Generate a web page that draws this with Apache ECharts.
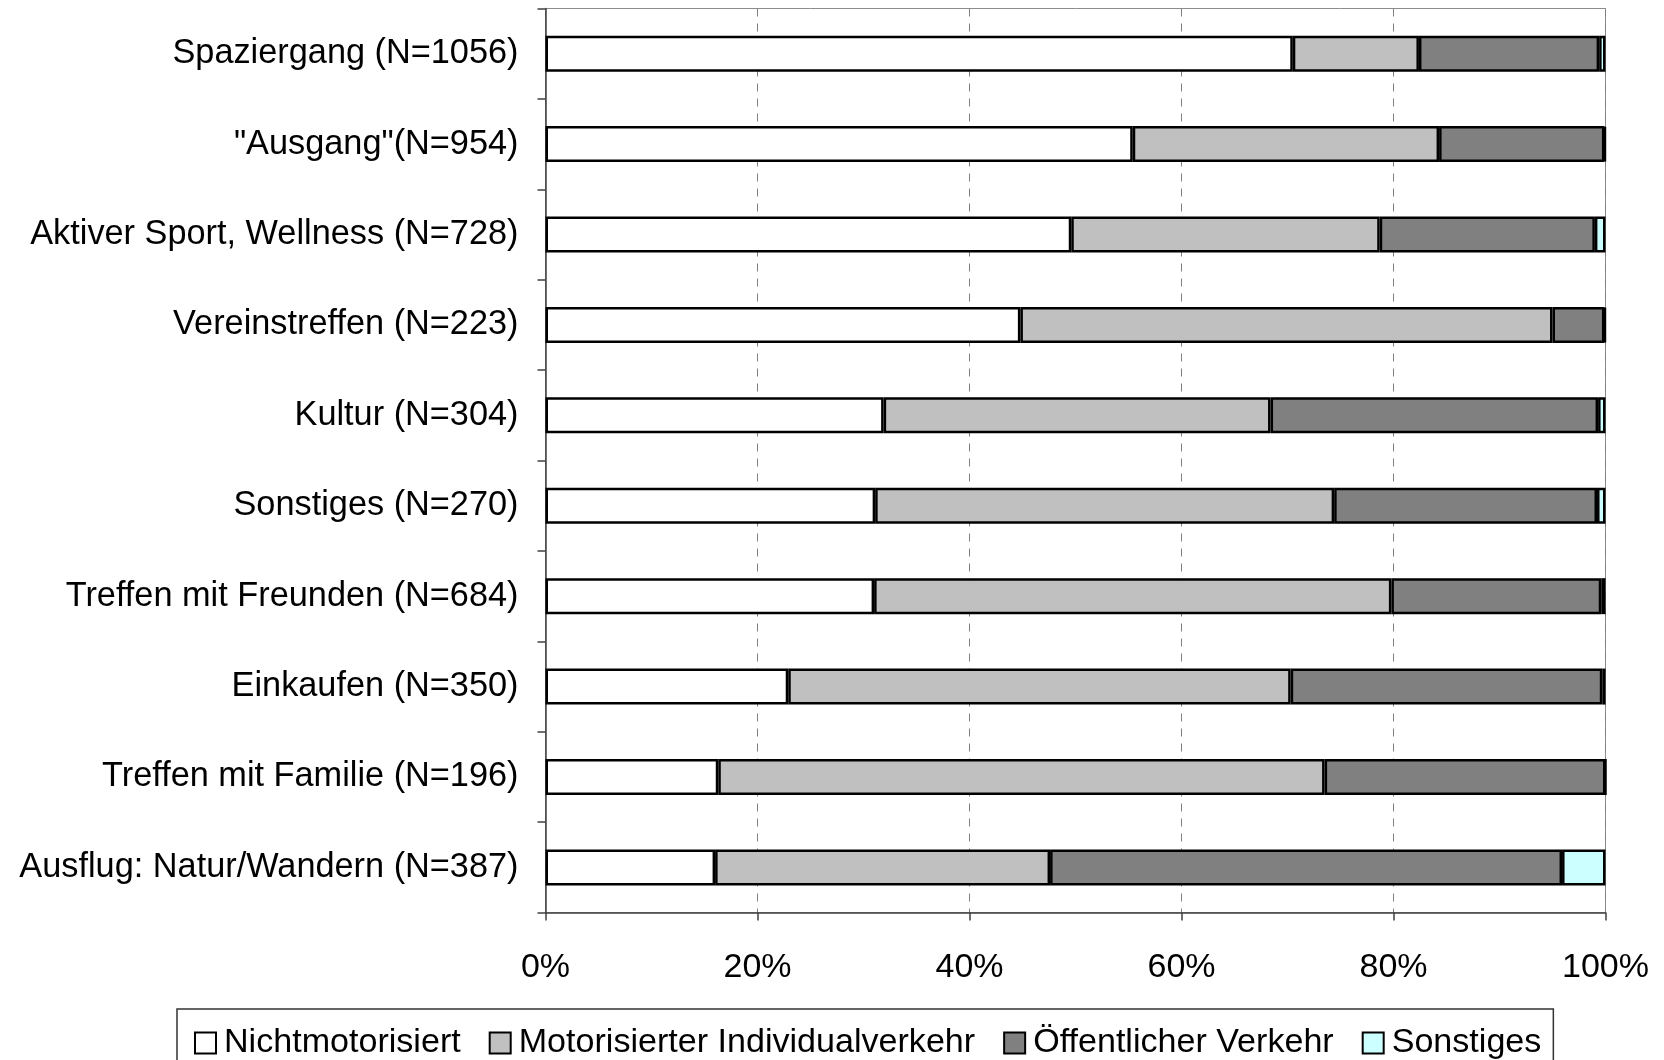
<!DOCTYPE html>
<html>
<head>
<meta charset="utf-8">
<script src="https://cdn.jsdelivr.net/npm/echarts@6/dist/echarts.min.js"></script>
<style>
html,body{margin:0;padding:0;background:#fff;}
#chart{width:1664px;height:1060px;}
</style>
</head>
<body>
<div id="chart"></div>
<script>
const categories = ['Spaziergang (N=1056)', '"Ausgang"(N=954)', 'Aktiver Sport, Wellness (N=728)', 'Vereinstreffen (N=223)', 'Kultur (N=304)', 'Sonstiges (N=270)', 'Treffen mit Freunden (N=684)', 'Einkaufen (N=350)', 'Treffen mit Familie (N=196)', 'Ausflug: Natur/Wandern (N=387)'];
const seriesNames = ['Nichtmotorisiert', 'Motorisierter Individualverkehr', 'Öffentlicher Verkehr', 'Sonstiges'];
const nichtmotorisiert = [70.5, 55.4, 49.6, 44.8, 31.9, 31.1, 31.0, 22.9, 16.3, 16.0];
const motorisiert = [11.9, 28.9, 29.1, 50.2, 36.5, 43.3, 48.8, 47.4, 57.2, 31.6];
const oeffentlich = [17.0, 15.6, 20.3, 4.9, 30.9, 24.8, 19.8, 29.4, 26.5, 48.3];
const sonstiges = [0.6, 0.1, 1.0, 0.1, 0.7, 0.8, 0.4, 0.3, 0.0, 4.1];
const colors = ['#FFFFFF', '#C0C0C0', '#808080', '#CCFFFF'];

const FONT = "'Liberation Sans', Arial, sans-serif";
const chart = echarts.init(document.getElementById('chart'), null, {renderer: 'canvas'});
const dataSets = [nichtmotorisiert, motorisiert, oeffentlich, sonstiges];
chart.setOption({
  animation: false,
  backgroundColor: '#fff',
  grid: {left: 545.5, right: 58.5, top: 8.5, bottom: 147.4, show: true, borderColor: '#8c8c8c', borderWidth: 1, backgroundColor: 'transparent'},
  legend: {
    left: 177, top: 1009,
    orient: 'horizontal',
    itemWidth: 21, itemHeight: 21, itemGap: 28,
    padding: [17, 12, 17, 17],
    borderColor: '#333', borderWidth: 1.5,
    icon: 'rect',
    textStyle: {fontFamily: FONT, fontSize: 34.1, color: '#000', padding: [0, 0, 0, 3]},
    data: seriesNames
  },
  xAxis: {
    type: 'value', min: 0, max: 100, interval: 20,
    axisLine: {show: true, lineStyle: {color: '#404040', width: 1.5}},
    axisTick: {show: true, length: 8, lineStyle: {color: '#404040', width: 1.5}},
    axisLabel: {formatter: '{value}%', fontFamily: FONT, fontSize: 34, color: '#000', margin: 38},
    splitLine: {show: true, lineStyle: {color: '#808080', width: 1, type: [8, 7]}}
  },
  yAxis: {
    type: 'category', data: categories, inverse: true,
    axisLine: {show: true, lineStyle: {color: '#404040', width: 1.5}},
    axisTick: {show: true, length: 8, alignWithLabel: false, lineStyle: {color: '#404040', width: 1.5}},
    axisLabel: {fontFamily: FONT, fontSize: 34.3, color: '#000', margin: 27, padding: [10, 0, 0, 0]},
    splitLine: {show: false}
  },
  series: dataSets.map((d, i) => ({
    name: seriesNames[i],
    type: 'bar',
    stack: 'total',
    barWidth: 36,
    data: d,
    itemStyle: {color: colors[i], borderColor: '#000', borderWidth: 2.5}
  }))
});
</script>
</body>
</html>
